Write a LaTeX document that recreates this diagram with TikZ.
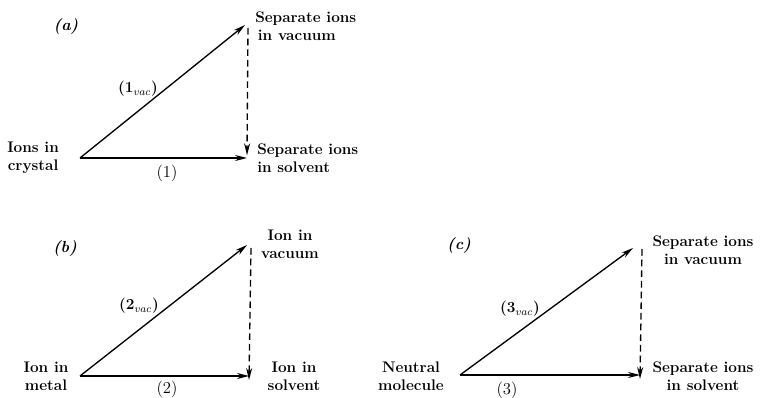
\documentclass[tikz,border=0pt]{standalone}
\usetikzlibrary{arrows.meta}
\begin{document}
\begin{tikzpicture}[x=0.75pt,y=-0.75pt,
  lbl/.style={font=\fontsize{11.5}{13.5}\selectfont\bfseries, inner sep=0pt},
  num/.style={font=\fontsize{12.5}{13}\selectfont, inner sep=0pt},
  vac/.style={font=\fontsize{11.5}{12}\selectfont\bfseries, inner sep=0pt},
  tag/.style={font=\fontsize{12}{13}\selectfont\bfseries\itshape, inner sep=0pt},
  arr/.style={line width=1pt, -{Stealth[length=9pt,width=4.5pt]}},
  darr/.style={line width=1pt, dash pattern=on 5pt off 3pt, -{Stealth[length=9pt,width=4.5pt]}}]
\useasboundingbox (0,0) rectangle (763,398);
% ---- panel (a)
\node[tag] (ta) at (66,26) {(a)};
\coordinate (a0) at (80,158);
\coordinate (a1) at (245,25);
\coordinate (a2) at (247,158);
\coordinate (a3) at (248,28);
\node[lbl, align=center, anchor=west] (ain) at (7,158) {Ions in\\crystal};
\node[lbl, align=left, anchor=west] (avac) at (255,26) {Separate ions\\\hspace*{2pt}in vacuum};
\node[lbl, align=left, anchor=west] (asol) at (257,158) {Separate ions\\in solvent};
\draw[arr] (a0) -- (a1);
\draw[arr] (a0) -- (a2);
\draw[darr] (a3) -- ([yshift=2]a2);
\node[vac] (a1l) at (138,89) {(1$_{vac}$)};
\node[num] (a1n) at (167,173) {(1)};
% ---- panel (b)
\node[tag] (tb) at (65,248) {(b)};
\coordinate (b0) at (80,376);
\coordinate (b1) at (247,245);
\coordinate (b2) at (249,376);
\coordinate (b3) at (251,248);
\node[lbl, align=center] (bin) at (46,376) {Ion in\\metal};
\node[lbl, align=center] (bvac) at (290,244) {Ion in\\vacuum};
\node[lbl, align=center] (bsol) at (294,376) {Ion in\\solvent};
\draw[arr] (b0) -- (b1);
\draw[arr] (b0) -- (b2);
\draw[darr] (b3) -- ([yshift=-3]b2);
\node[vac] (b2l) at (139,306) {(2$_{vac}$)};
\node[num] (b2n) at (167,389) {(2)};
% ---- panel (c)
\node[tag] (tc) at (459,245) {(c)};
\coordinate (c0) at (460,375);
\coordinate (c1) at (633,248);
\coordinate (c2) at (640,375);
\coordinate (c3) at (642,249);
\node[lbl, align=center] (cin) at (411,376) {Neutral\\molecule};
\node[lbl, align=center] (cvac) at (703,250) {Separate ions\\in vacuum};
\node[lbl, align=center] (csol) at (703,376) {Separate ions\\in solvent};
\draw[arr] (c0) -- (c1);
\draw[arr] (c0) -- (c2);
\draw[darr] (c3) -- ([yshift=-3]c2);
\node[vac] (c3l) at (520,309) {(3$_{vac}$)};
\node[num] (c3n) at (507,390) {(3)};
\end{tikzpicture}
\end{document}
